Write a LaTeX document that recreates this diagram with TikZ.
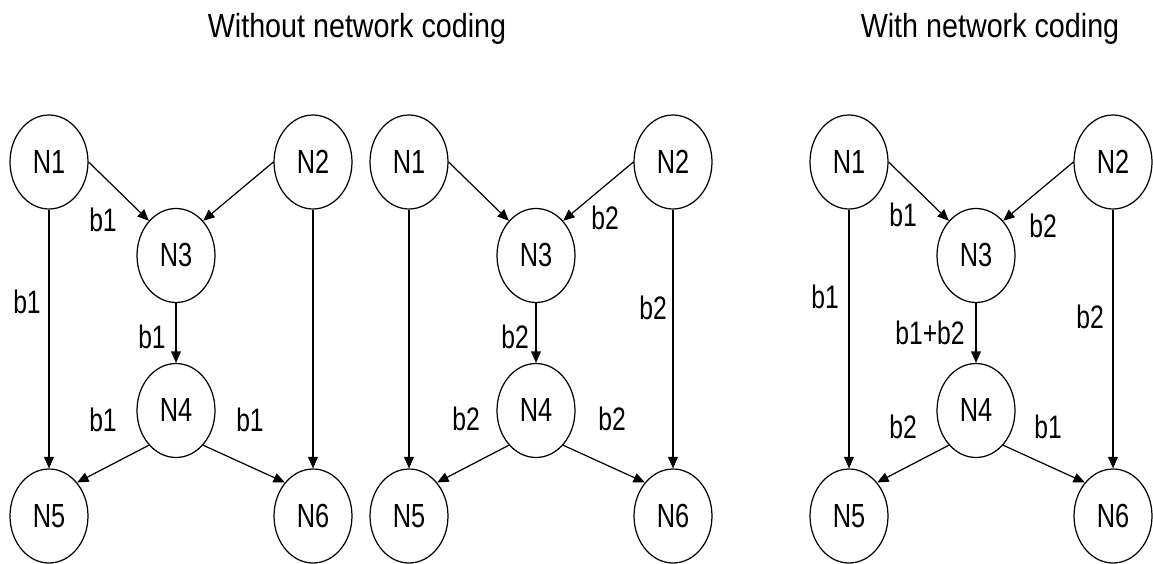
\documentclass[tikz,border=0pt]{standalone}
\usepackage{fontspec}
\usetikzlibrary{arrows.meta,shapes.geometric}
\newfontfamily\labelfont[FakeStretch=0.76]{Liberation Sans}
\newfontfamily\titlefont[FakeStretch=0.86]{Liberation Sans}

\tikzset{
  netnode/.style={draw, ellipse, line width=0.7pt, minimum width=1.56cm,
    minimum height=1.88cm, inner sep=0pt, font=\labelfont\fontsize{19}{22}\selectfont},
  arr/.style={line width=0.7pt, -{Triangle[length=6.5pt,width=5.5pt]}},
  edgelabel/.style={inner sep=0pt, font=\labelfont\fontsize{18.5}{22}\selectfont},
  heading/.style={inner sep=0pt, font=\titlefont\fontsize{19}{22}\selectfont}
}

% One butterfly network; #1 = name prefix, #2 = horizontal offset
\newcommand{\drawnet}[2]{%
  \node[netnode] (#1n1) at ({#2+49},162) {N1};
  \node[netnode] (#1n2) at ({#2+313},162) {N2};
  \node[netnode] (#1n3) at ({#2+176},255.5) {N3};
  \node[netnode] (#1n4) at ({#2+176},410.5) {N4};
  \node[netnode] (#1n5) at ({#2+49},516) {N5};
  \node[netnode] (#1n6) at ({#2+313},516) {N6};
  \draw[arr] (#1n1.east) -- (#1n3.128);
  \draw[arr] (#1n2.west) -- (#1n3.52);
  \draw[arr] (#1n3.south) -- (#1n4.north);
  \draw[arr] (#1n1.south) -- (#1n5.north);
  \draw[arr] (#1n2.south) -- (#1n6.north);
  \draw[arr] (#1n4.-128) -- (#1n5.50);
  \draw[arr] (#1n4.-52) -- (#1n6.130);
}

\begin{document}
\begin{tikzpicture}[x=0.02cm, y=-0.02cm]
  \useasboundingbox (0,0) rectangle (1153,564);

  \node[heading] (t1) at (357,29) {Without network coding};
  \node[heading] (t2) at (990,29) {With network coding};

  % first transmission: b1 only
  \drawnet{a}{0}
  \node[edgelabel] (a1) at (103,220) {b1};
  \node[edgelabel] (a2) at (27,302) {b1};
  \node[edgelabel] (a3) at (152,337) {b1};
  \node[edgelabel] (a4) at (103,420) {b1};
  \node[edgelabel] (a5) at (250,420) {b1};

  % second transmission: b2 only
  \drawnet{b}{360}
  \node[edgelabel] (b1) at (605,218) {b2};
  \node[edgelabel] (b2) at (653,308) {b2};
  \node[edgelabel] (b3) at (515,337) {b2};
  \node[edgelabel] (b4) at (466,419) {b2};
  \node[edgelabel] (b5) at (612,419) {b2};

  % coded transmission
  \drawnet{c}{800}
  \node[edgelabel] (c1) at (903,215) {b1};
  \node[edgelabel] (c2) at (1043,226) {b2};
  \node[edgelabel] (c3) at (825,297) {b1};
  \node[edgelabel] (c4) at (1090,317) {b2};
  \node[edgelabel] (c5) at (930,333) {b1+b2};
  \node[edgelabel] (c6) at (903,427) {b2};
  \node[edgelabel] (c7) at (1048,427) {b1};
\end{tikzpicture}
\end{document}
